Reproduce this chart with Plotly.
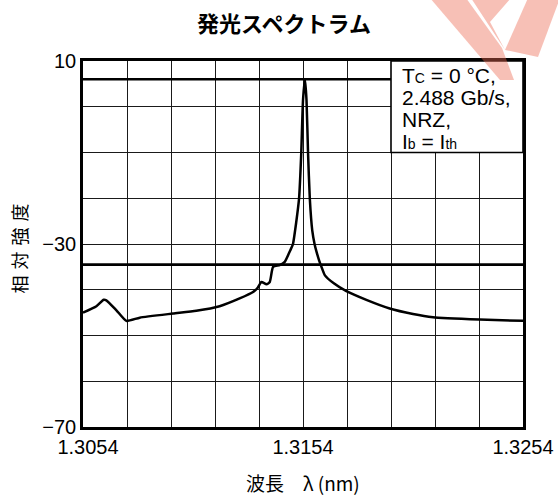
import plotly.graph_objects as go

# ---- data ----
wavelength_nm = [1.30540, 1.30601, 1.30634, 1.30646, 1.30692, 1.30737, 1.30798, 1.30949,
                 1.31055, 1.31161, 1.31252, 1.31313, 1.31335, 1.31351, 1.31374, 1.31389,
                 1.31404, 1.31434, 1.31457, 1.31482, 1.31494, 1.31509, 1.31522, 1.31532,
                 1.31540, 1.31549, 1.31556, 1.31563, 1.31571, 1.31582, 1.31593, 1.31601,
                 1.31612, 1.31624, 1.31639, 1.31680, 1.31737, 1.31828, 1.31934, 1.32040,
                 1.32131, 1.32343, 1.32540]
intensity_db = [-45.0, -43.6, -42.2, -42.3, -44.5, -46.8, -46.1, -45.2,
                -44.6, -43.6, -41.9, -40.5, -39.5, -38.3, -38.8, -38.3,
                -35.0, -34.6, -33.9, -31.4, -30.1, -25.3, -20.1, -10.2,
                1.4, 6.0, 1.4, -10.2, -20.1, -27.0, -30.1, -31.6,
                -33.4, -35.0, -36.8, -38.6, -40.3, -42.2, -44.1, -45.3,
                -46.0, -46.5, -46.8]

x_tick_vals = [1.3054, 1.3154, 1.3254]
x_tick_text = ["\u20021.3054", "1.3154", "1.3254"]
y_tick_vals = [10, -30, -70]

ref_line_top = 6.0        # upper reference level (dB)
ref_line_bottom = -34.5   # lower reference level (dB)

title_text = "発光スペクトラム"
x_title = "波長　λ (nm)"
y_title = "相\u2004対\u2004強\u2004度"
cond_lines = [
    "T<span style='font-size:14px'>C</span> = 0 °C,",
    "2.488 Gb/s,",
    "NRZ,",
    "I<span style='font-size:14px'>b</span> = I<span style='font-size:14px'>th</span>",
]

# ---- layout geometry ----
W, H = 558, 495
ML, MR, MT, MB = 83, 35, 61, 68
PW, PH = W - ML - MR, H - MT - MB

X0, X1 = 1.3054, 1.3254
Y0, Y1 = -70, 10

FONT = "Liberation Sans, Arial, Noto Sans CJK JP, sans-serif"
CJK = "Noto Sans CJK JP, sans-serif"

fig = go.Figure()
fig.add_trace(go.Scatter(
    x=wavelength_nm, y=intensity_db, mode="lines",
    line=dict(color="black", width=2.5, shape="spline", smoothing=0.5),
    hoverinfo="skip", showlegend=False))

shapes = []
shapes.append(dict(type="rect", xref="x", yref="y", x0=1.3194, x1=X1, y0=-10, y1=Y1,
                   fillcolor="white", line=dict(color="black", width=1.6), layer="between"))
shapes.append(dict(type="line", xref="x", yref="y", x0=X0, x1=1.3194,
                   y0=ref_line_top, y1=ref_line_top,
                   line=dict(color="black", width=2.6), layer="between"))
shapes.append(dict(type="line", xref="x", yref="y", x0=X0, x1=X1,
                   y0=ref_line_bottom, y1=ref_line_bottom,
                   line=dict(color="black", width=2.6), layer="between"))

# watermark (decorative logo fragment, pixel coordinates -> paper)
def px(xp, yp):
    return (xp - ML) / PW, (H - MB - yp) / PH

def poly(points):
    pts = [px(a, b) for a, b in points]
    return "M " + " L ".join(f"{a:.4f},{b:.4f}" for a, b in pts) + " Z"

wm_color = "rgba(236,105,80,0.42)"
for pts in [
    [(430, -2), (466, -2), (502, 48), (514, 80), (500, 80)],
    [(471, -2), (511, -2), (490, 22), (505, 50)],
    [(528, -2), (560, -2), (538, 57), (505, 50)],
]:
    shapes.append(dict(type="path", xref="paper", yref="paper", path=poly(pts),
                       fillcolor=wm_color, line=dict(width=0), layer="above"))

annotations = []
cond_y = [6.9, 2.1, -2.7, -7.6]
for t, yy in zip(cond_lines, cond_y):
    annotations.append(dict(x=1.31945, y=yy, xref="x", yref="y", text=t,
                            showarrow=False, xanchor="left", yanchor="middle",
                            xshift=8, font=dict(family=FONT, size=21, color="black")))
annotations.append(dict(x=0.5, y=0, xref="paper", yref="paper", text=x_title,
                        showarrow=False, xanchor="center", yanchor="middle", yshift=-55,
                        font=dict(family=CJK, size=19, color="black")))
annotations.append(dict(x=0, y=0.488, xref="paper", yref="paper", text=y_title,
                        showarrow=False, xanchor="center", yanchor="middle", xshift=-64,
                        textangle=-90, font=dict(family=CJK, size=18, color="black")))

grid = dict(color="#1a1a1a", width=1.2)

fig.update_layout(
    width=W, height=H,
    margin=dict(l=ML, r=MR, t=MT, b=MB, pad=0, autoexpand=False),
    paper_bgcolor="white", plot_bgcolor="white",
    title=dict(text=f"<b>{title_text}</b>", x=284 / W, xanchor="center",
               y=1 - 24 / H, yanchor="middle", yref="container", automargin=False,
               font=dict(family=CJK, size=22, color="black")),
    shapes=shapes, annotations=annotations,
    showlegend=False,
    xaxis=dict(range=[X0, X1], tickmode="array", tickvals=x_tick_vals, ticktext=x_tick_text,
               showgrid=True, gridcolor=grid["color"], gridwidth=grid["width"],
               minor=dict(tickmode="linear", tick0=X0, dtick=0.002, showgrid=True,
                          gridcolor=grid["color"], gridwidth=grid["width"]),
               showline=True, mirror=True, linecolor="black", linewidth=2.6,
               ticks="", zeroline=False, automargin=False,
               tickfont=dict(family=FONT, size=20, color="black")),
    yaxis=dict(range=[Y0, Y1], tickmode="array", tickvals=y_tick_vals,
               showgrid=True, gridcolor=grid["color"], gridwidth=grid["width"],
               minor=dict(tickmode="linear", tick0=Y0, dtick=10, showgrid=True,
                          gridcolor=grid["color"], gridwidth=grid["width"]),
               showline=True, mirror=True, linecolor="black", linewidth=2.6,
               ticks="", zeroline=False, automargin=False,
               tickfont=dict(family=FONT, size=20, color="black")),
)

# remove the browser's default 8px body margin so the figure fills the window exactly
fig.write_html("out.html",
               config={"displayModeBar": False},
               post_script="document.body.style.margin='0';document.body.style.overflow='hidden';")
